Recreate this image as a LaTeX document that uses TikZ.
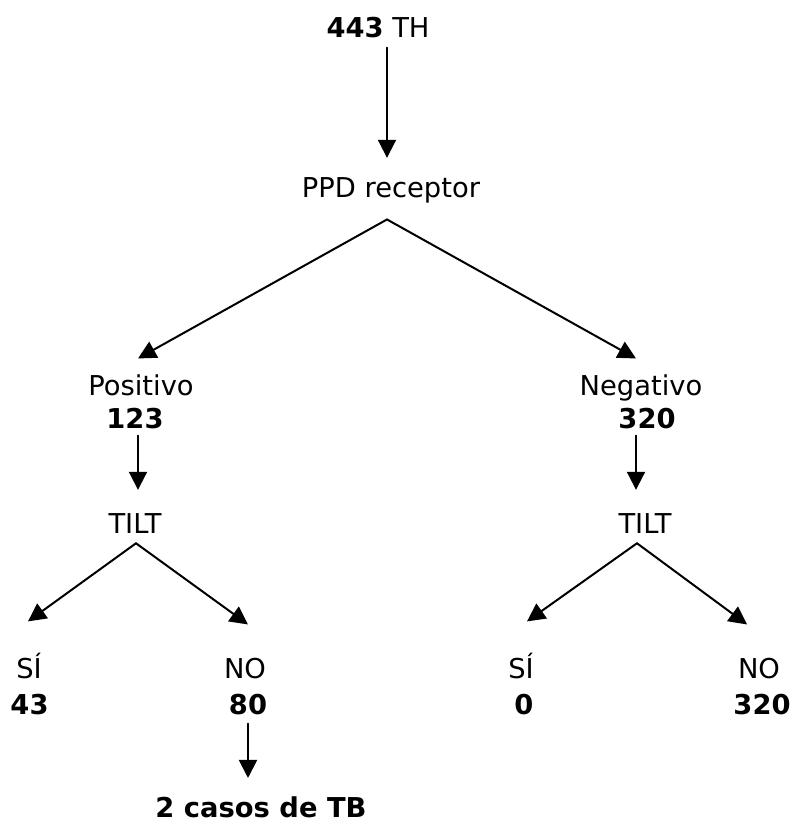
\documentclass[tikz,border=0pt]{standalone}
\usepackage{fontspec}
\setmainfont{DejaVu Sans}
\usetikzlibrary{arrows.meta}

\begin{document}
\begin{tikzpicture}[line cap=round,line join=round,>={Triangle[length=13.5pt,width=13.5pt]},x=0.75pt,y=-0.75pt,
    lbl/.style={anchor=base,inner sep=0pt,font=\fontsize{20.5}{24}\selectfont},
    arr/.style={->,line width=1.5pt}]
            \useasboundingbox (0,0) rectangle (794,822);
            \node[lbl] (top) at (378,37) {\textbf{443} TH};
            \node[lbl] (ppd) at (391,197) {PPD receptor};
            \node[lbl] (pos) at (141,395) {Positivo};
            \node[lbl] (posn) at (135,428) {\textbf{123}};
            \node[lbl] (neg) at (641,395) {Negativo};
            \node[lbl] (negn) at (647,428) {\textbf{320}};
            \node[lbl] (tiltl) at (135,533) {TILT};
            \node[lbl] (tiltr) at (645,533) {TILT};
            \node[lbl] (sil) at (29,678) {SÍ};
            \node[lbl] (siln) at (29.5,714) {\textbf{43}};
            \node[lbl] (nol) at (245,678) {NO};
            \node[lbl] (noln) at (248,714) {\textbf{80}};
            \node[lbl] (sir) at (521,678) {SÍ};
            \node[lbl] (sirn) at (524,714) {\textbf{0}};
            \node[lbl] (nor) at (759,678) {NO};
            \node[lbl] (norn) at (762,714) {\textbf{320}};
            \node[lbl] (tb) at (261,817) {\textbf{2 casos de TB}};
            \draw [arr] ([shift={(9,10)}]top.south) -- ([shift={(-4,-19)}]ppd.north);
            \draw [arr] ([shift={(-4,16.5)}]ppd.south) -- ([shift={(-3,-15.5)}]pos.north);
            \draw [arr] ([shift={(-4,16.5)}]ppd.south) -- ([shift={(-5,-15.5)}]neg.north);
            \draw [arr] ([shift={(3,7)}]posn.south) -- ([shift={(3,-23)}]tiltl.north);
            \draw [arr] ([shift={(-11,7)}]negn.south) -- ([shift={(-9,-23)}]tiltr.north);
            \draw [arr] ([shift={(1,10)}]tiltl.south) -- ([shift={(-1,-31)}]sil.north);
            \draw [arr] ([shift={(1,10)}]tiltl.south) -- ([shift={(3,-33)}]nol.north);
            \draw [arr] ([shift={(-8,10)}]tiltr.south) -- ([shift={(6,-31)}]sir.north);
            \draw [arr] ([shift={(-8,10)}]tiltr.south) -- ([shift={(-12,-33)}]nor.north);
            \draw [arr] ([shift={(0,9)}]noln.south) -- ([shift={(-13,-18)}]tb.north);
        \end{tikzpicture}
\end{document}
